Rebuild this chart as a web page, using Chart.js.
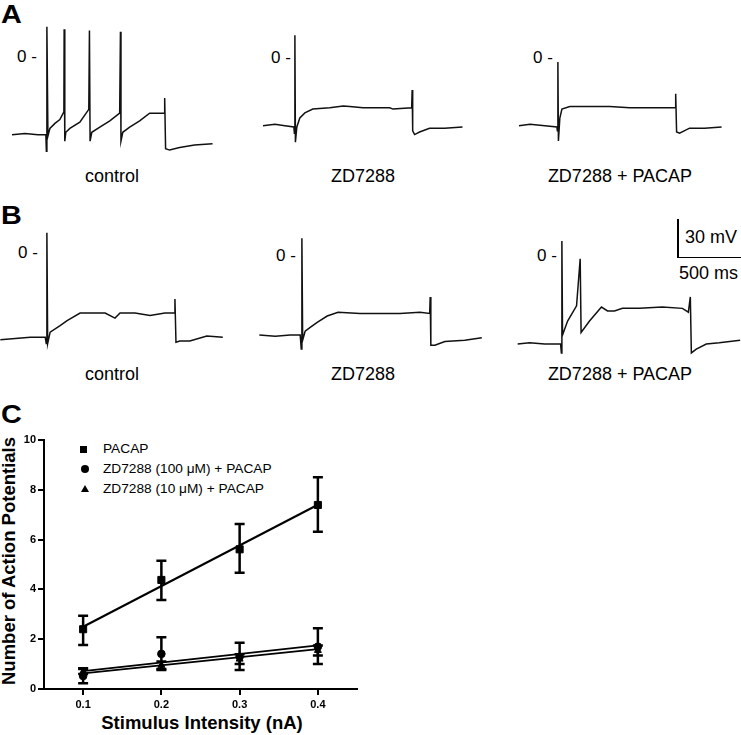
<!DOCTYPE html>
<html>
<head>
<meta charset="utf-8">
<script src="https://cdn.jsdelivr.net/npm/chart.js@4/dist/chart.umd.min.js"></script>
<style>
  html, body { margin: 0; padding: 0; background: #fff; overflow: hidden; }
  body { width: 741px; height: 735px; position: relative; font-family: "Liberation Sans", Arial, sans-serif; color: #000; }
  canvas { position: absolute; }
  .txt { position: absolute; white-space: nowrap; }
  .panel { font-size: 25px; line-height: 25px; font-weight: bold; transform: scaleX(1.15); transform-origin: left top; }
  .zero { font-size: 17px; line-height: 17px; }
  .cap { font-size: 18px; line-height: 18px; width: 240px; text-align: center; }
  .bar { position: absolute; background: #000; }
  .leg { font-size: 13.7px; line-height: 16px; }
  .mk { position: absolute; background: #000; }
  .tri { position: absolute; width: 0; height: 0; border-left: 4px solid transparent; border-right: 4px solid transparent; border-bottom: 7px solid #000; }
  .axt { font-size: 18.5px; line-height: 20px; font-weight: bold; }
</style>
</head>
<body>

<div class="txt panel" style="left:1px;top:2px;">A</div>
<div class="txt panel" style="left:1px;top:203px;">B</div>
<div class="txt panel" style="left:1px;top:402px;">C</div>

<!-- zero markers -->
<div class="txt zero" style="left:17px;top:48px;">0 -</div>
<div class="txt zero" style="left:271px;top:49px;">0 -</div>
<div class="txt zero" style="left:533px;top:49px;">0 -</div>
<div class="txt zero" style="left:18px;top:244px;">0 -</div>
<div class="txt zero" style="left:276px;top:247px;">0 -</div>
<div class="txt zero" style="left:537px;top:247px;">0 -</div>

<!-- captions -->
<div class="txt cap" style="left:-8px;top:167px;">control</div>
<div class="txt cap" style="left:243px;top:167px;">ZD7288</div>
<div class="txt cap" style="left:500px;top:167px;">ZD7288 + PACAP</div>
<div class="txt cap" style="left:-8px;top:365px;">control</div>
<div class="txt cap" style="left:243px;top:365px;">ZD7288</div>
<div class="txt cap" style="left:500px;top:365px;">ZD7288 + PACAP</div>

<!-- scale bar -->
<div class="bar" style="left:677px;top:219px;width:1.5px;height:39px;"></div>
<div class="bar" style="left:677px;top:256.5px;width:70px;height:1.5px;"></div>
<div class="txt cap" style="top:228px;text-align:left;width:auto;left:685px;">30 mV</div>
<div class="txt cap" style="left:679px;top:264px;text-align:left;width:auto;">500 ms</div>

<!-- panel C legend -->
<div class="mk" style="left:80px;top:446px;width:7px;height:7px;"></div>
<div class="mk" style="left:81px;top:465px;width:8px;height:8px;border-radius:50%;"></div>
<div class="tri" style="left:81px;top:485px;"></div>
<div class="txt leg" style="left:103px;top:441px;">PACAP</div>
<div class="txt leg" style="left:103px;top:461px;">ZD7288 (100 μM) + PACAP</div>
<div class="txt leg" style="left:103px;top:481px;">ZD7288 (10 μM) + PACAP</div>

<!-- panel C axis titles -->
<div class="txt axt" style="left:-141px;top:551px;width:300px;text-align:center;transform:rotate(-90deg);">Number of Action Potentials</div>
<div class="txt axt" style="left:52px;top:713px;width:300px;text-align:center;">Stimulus Intensity (nA)</div>

<canvas id="trA1" width="240" height="140" style="left:-5px;top:19px;"></canvas>
<canvas id="trA2" width="240" height="140" style="left:243px;top:20px;"></canvas>
<canvas id="trA3" width="240" height="140" style="left:506px;top:20px;"></canvas>
<canvas id="trB1" width="240" height="140" style="left:-5px;top:215px;"></canvas>
<canvas id="trB2" width="240" height="140" style="left:250px;top:218px;"></canvas>
<canvas id="trB3" width="240" height="140" style="left:510px;top:218px;"></canvas>
<canvas id="chartC" width="380" height="345" style="left:0px;top:390px;"></canvas>

<script>
// --- Traces (time in ms from step onset, membrane potential in mV) ---
const ctrlA_t = [-269,-169,-69,-8,-4,0,8,23,62,100,131,133,138,146,177,254,323,328,333,346,408,485,561,567,571,585,638,715,792,831,904,908,915,946,1023,1138,1277];
const ctrlA_mv = [-61,-60,-61,-61,-74,24,-62,-56,-52,-49,-43,22,-66,-59,-56,-51,-41,21,-66,-59,-55,-50,-44,20,-66,-59,-55,-50,-44,-44,-44,-32,-72,-73,-71,-69,-68];

const zdA_t = [-246,-154,-77,-8,-4,0,4,15,38,77,138,269,372,423,525,577,731,756,900,904,908,923,961,1038,1154,1292];
const zdA_mv = [-53,-52,-53,-54,-59,18,-66,-54,-47,-43,-40,-39,-37.5,-38,-39,-39,-39,-40,-39,-25,-57,-60,-58,-55,-55,-54];

const zdPacapA_t = [-300,-215,-100,-8,-4,0,4,15,31,92,246,400,554,708,904,908,915,938,1015,1131,1262];
const zdPacapA_mv = [-53,-52,-53,-54,-57,-3,-65,-47,-40,-38,-38,-38,-39,-39,-39,-28,-58,-59,-55,-55,-54];

const ctrlB_t = [-359,-244,-128,-13,-5,0,6,25,102,156,256,372,449,525,564,679,795,910,983,987,995,1025,1102,1233,1356];
const ctrlB_mv = [-68,-67,-66,-66,-71,16,-71,-62,-57,-53,-47,-47,-47,-51,-47,-47,-49,-47,-47,-36,-70,-69,-69,-65,-66];

const zdB_t = [-328,-205,-90,-13,-5,0,6,25,64,118,195,279,448,602,756,910,985,989,994,1025,1102,1256,1387];
const zdB_mv = [-62,-63,-62,-62,-73,14,-66,-59,-56,-52,-47,-44,-45,-45,-45,-44,-45,-32,-70,-70,-67,-66,-64];

const zdPacapB_t = [-341,-249,-133,-10,-4,0,5,44,113,141,148,213,305,352,405,467,598,775,929,975,990,998,1036,1113,1213,1374];
const zdPacapB_mv = [-69,-68,-69,-69,-76,12,-62,-51,-39,-2,-60,-51,-40,-43,-43,-41,-41,-40,-41,-44,-32,-76,-73,-69,-68,-66];

// --- Panel C ---
const stimulus = [0.1, 0.2, 0.3, 0.4];
const xTicks = [0.1, 0.2, 0.3, 0.4];
const pacapMean = [2.4, 4.38, 5.61, 7.39];
const pacapHi = [2.94, 5.15, 6.63, 8.5];
const pacapLo = [1.77, 3.57, 4.67, 6.32];
const zd100Mean = [0.52, 1.41, 1.3, 1.7];
const zd100Hi = [0.83, 2.08, 1.86, 2.44];
const zd100Lo = [0.23, 0.76, 0.76, 1.0];
const zd10Mean = [0.7, 0.95, 1.2, 1.55];
const zd10Hi = [0.8, 1.1, 1.4, 1.75];
const zd10Lo = [0.6, 0.8, 1.0, 1.35];
const fitX = [0.1, 0.4];
const pacapFit = [2.5, 7.4];
const zd100Fit = [0.72, 1.75];
const zd10Fit = [0.63, 1.6];

const toXY = (xs, ys) => xs.map((x, i) => ({ x: x, y: ys[i] }));

function drawTrace(id, t, mv) {
    new Chart(document.getElementById(id), {
        type: 'line',
        data: {
            datasets: [{
                data: toXY(t, mv),
                borderColor: '#111',
                borderWidth: 1.5,
                pointRadius: 0,
                tension: 0,
                clip: false
            }]
        },
        options: {
            responsive: false,
            animation: false,
            devicePixelRatio: 1,
            layout: { padding: 0 },
            plugins: { legend: { display: false }, tooltip: { enabled: false } },
            scales: {
                x: { type: 'linear', display: false, min: -400, max: 1450 },
                y: { type: 'linear', display: false, min: -80, max: 30 }
            }
        }
    });
}

drawTrace('trA1', ctrlA_t, ctrlA_mv);
drawTrace('trA2', zdA_t, zdA_mv);
drawTrace('trA3', zdPacapA_t, zdPacapA_mv);
drawTrace('trB1', ctrlB_t, ctrlB_mv);
drawTrace('trB2', zdB_t, zdB_mv);
drawTrace('trB3', zdPacapB_t, zdPacapB_mv);

// error bars drawn from dataset.errHi / errLo
const errorBars = {
    id: 'errorBars',
    beforeDatasetsDraw(chart) {
        const ctx = chart.ctx;
        const xs = chart.scales.x, ys = chart.scales.y;
        ctx.save();
        ctx.strokeStyle = '#000';
        ctx.lineWidth = 2.5;
        chart.data.datasets.forEach(ds => {
            if (!ds.errHi) return;
            ds.data.forEach((p, i) => {
                const px = xs.getPixelForValue(p.x);
                const top = ys.getPixelForValue(ds.errHi[i]);
                const bot = ys.getPixelForValue(ds.errLo[i]);
                ctx.beginPath();
                ctx.moveTo(px, top); ctx.lineTo(px, bot);
                ctx.moveTo(px - 5, top); ctx.lineTo(px + 5, top);
                ctx.moveTo(px - 5, bot); ctx.lineTo(px + 5, bot);
                ctx.stroke();
            });
        });
        ctx.restore();
    }
};

const axisFont = { family: '"Liberation Sans", Arial, sans-serif', size: 11, weight: 'bold' };

new Chart(document.getElementById('chartC'), {
    type: 'scatter',
    data: {
        datasets: [
            { data: toXY(stimulus, pacapMean), errHi: pacapHi, errLo: pacapLo, pointStyle: 'rect', pointRadius: 5, backgroundColor: '#000', borderColor: '#000' },
            { data: toXY(fitX, pacapFit), showLine: true, pointRadius: 0, borderColor: '#000', borderWidth: 2 },
            { data: toXY(stimulus, zd100Mean), errHi: zd100Hi, errLo: zd100Lo, pointStyle: 'circle', pointRadius: 3.8, backgroundColor: '#000', borderColor: '#000' },
            { data: toXY(fitX, zd100Fit), showLine: true, pointRadius: 0, borderColor: '#000', borderWidth: 1.8 },
            { data: toXY(stimulus, zd10Mean), errHi: zd10Hi, errLo: zd10Lo, pointStyle: 'triangle', pointRadius: 4, backgroundColor: '#000', borderColor: '#000' },
            { data: toXY(fitX, zd10Fit), showLine: true, pointRadius: 0, borderColor: '#000', borderWidth: 1.8 }
        ]
    },
    options: {
        responsive: false,
        animation: false,
        devicePixelRatio: 1,
        layout: { padding: { top: 50, right: 23, left: 0, bottom: 0 } },
        plugins: { legend: { display: false }, tooltip: { enabled: false } },
        scales: {
            x: {
                type: 'linear', min: 0.05, max: 0.45,
                afterBuildTicks: axis => { axis.ticks = xTicks.map(v => ({ value: v })); },
                afterFit: s => { s.height = 46; },
                ticks: { color: '#000', font: axisFont, padding: 3, callback: v => v.toFixed(1) },
                grid: { drawOnChartArea: false, drawTicks: true, tickLength: 6, color: '#000', lineWidth: 2 },
                border: { display: true, color: '#000', width: 2 }
            },
            y: {
                type: 'linear', min: 0, max: 10,
                afterFit: s => { s.width = 44; },
                ticks: { color: '#000', font: axisFont, padding: 2, stepSize: 2 },
                grid: { drawOnChartArea: false, drawTicks: true, tickLength: 6, color: '#000', lineWidth: 2 },
                border: { display: true, color: '#000', width: 2 }
            }
        }
    },
    plugins: [errorBars]
});
</script>
</body>
</html>
